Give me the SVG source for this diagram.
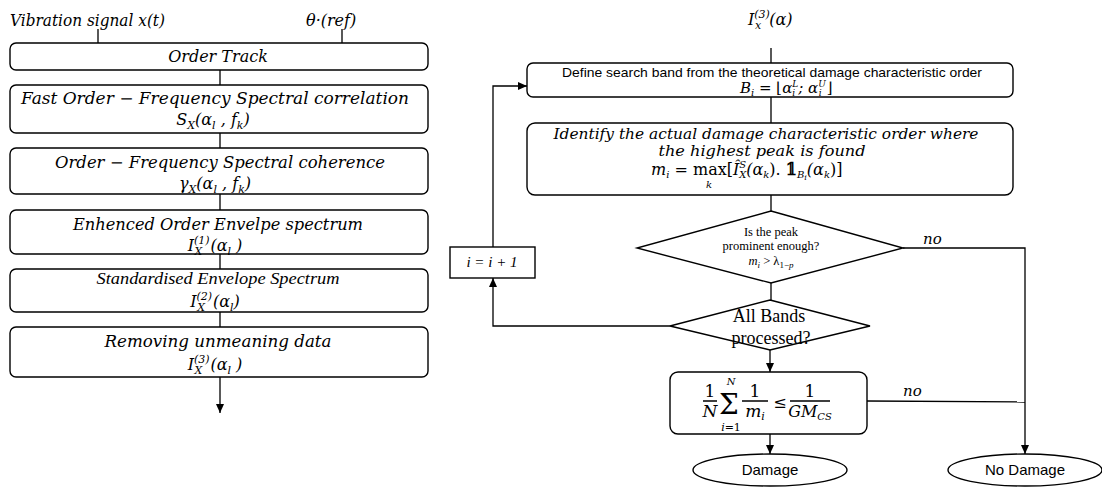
<svg xmlns="http://www.w3.org/2000/svg" width="1102" height="488" viewBox="0 0 1102 488" font-size="16">
<style>
.box{fill:#fff;stroke:#000;stroke-width:1.4}
.ln{fill:none;stroke:#000;stroke-width:1.3}
.m{font-family:"DejaVu Serif",serif;font-style:italic;fill:#000}
.u{font-family:"DejaVu Serif",serif;fill:#000}
.t{font-family:"Liberation Serif",serif;fill:#000}
.s{font-family:"Liberation Sans",sans-serif;fill:#000}
.c{text-anchor:middle}
</style>
<defs>
<marker id="ah" markerWidth="9" markerHeight="8" refX="9" refY="4" orient="auto" markerUnits="userSpaceOnUse"><path d="M0,0 L9,4 L0,8 z" fill="#000"/></marker>
</defs>
<rect width="1102" height="488" fill="#fff"/>

<g id="connectors">
<path class="ln" d="M98,29 V43 M342,29 V43"/>
<path class="ln" d="M220,70 V85 M220,133 V148 M220,194 V210 M220,254 V269 M220,312 V327"/>
<path class="ln" d="M220,377 V413" marker-end="url(#ah)"/>
<path class="ln" d="M771,48 V63 M771,97 V123 M771,195 V211 M771,283 V300"/>
<path class="ln" d="M770,350 V372" marker-end="url(#ah)"/>
<path class="ln" d="M770,434 V454" marker-end="url(#ah)"/>
<path class="ln" d="M903,248 H1025 V454" marker-end="url(#ah)"/>
<path class="ln" d="M867,401 L1025,402"/>
<path class="ln" d="M670,326 H493 V278" marker-end="url(#ah)"/>
<path class="ln" d="M493,247 V86 H527" marker-end="url(#ah)"/>
<text class="m" x="923" y="244" font-size="15">no</text>
<text class="m" x="903" y="396" font-size="15">no</text>
</g>

<g id="input-left">
<text class="m" x="10" y="26" textLength="155" lengthAdjust="spacingAndGlyphs">Vibration signal x(t)</text>
<text class="m" x="306" y="26">θ·(ref)</text>
</g>

<g id="order-track">
<rect class="box" x="10" y="43" width="418" height="27" rx="6"/>
<text class="m c" x="218" y="62">Order Track</text>
</g>

<g id="spectral-correlation">
<rect class="box" x="10" y="85" width="418" height="48" rx="6"/>
<text class="m c" x="215" y="104" textLength="388" lengthAdjust="spacingAndGlyphs">Fast Order − Frequency Spectral correlation</text>
<text class="m c" x="213" y="125">S<tspan dy="4" font-size="11">X</tspan><tspan dy="-4">(α</tspan><tspan dy="4" font-size="11">l</tspan><tspan dy="-4"> , f</tspan><tspan dy="4" font-size="11">k</tspan><tspan dy="-4">)</tspan></text>
</g>

<g id="spectral-coherence">
<rect class="box" x="10" y="148" width="418" height="46" rx="6"/>
<text class="m c" x="220" y="168" textLength="330" lengthAdjust="spacingAndGlyphs">Order − Frequency Spectral coherence</text>
<text class="m c" x="215" y="189">γ<tspan dy="4" font-size="11">X</tspan><tspan dy="-4">(α</tspan><tspan dy="4" font-size="11">l</tspan><tspan dy="-4"> , f</tspan><tspan dy="4" font-size="11">k</tspan><tspan dy="-4">)</tspan></text>
</g>

<g id="envelope-spectrum">
<rect class="box" x="10" y="210" width="418" height="44" rx="6"/>
<text class="m c" x="218" y="230" textLength="290" lengthAdjust="spacingAndGlyphs">Enhenced Order Envelpe spectrum</text>
<text class="m c" x="215" y="251">I<tspan dy="-7" font-size="11">(1)</tspan><tspan dx="-15" dy="11" font-size="11">X</tspan><tspan dx="8" dy="-4">(α</tspan><tspan dy="4" font-size="11">l</tspan><tspan dy="-4"> )</tspan></text>
</g>

<g id="standardised-spectrum">
<rect class="box" x="10" y="269" width="418" height="43" rx="6"/>
<text class="t c" x="218" y="284" font-size="17" font-style="italic" textLength="243" lengthAdjust="spacingAndGlyphs">Standardised Envelope Spectrum</text>
<text class="m c" x="215" y="307">I<tspan dy="-7" font-size="11">(2)</tspan><tspan dx="-15" dy="11" font-size="11">X</tspan><tspan dx="8" dy="-4">(α</tspan><tspan dy="4" font-size="11">l</tspan><tspan dy="-4">)</tspan></text>
</g>

<g id="removing-data">
<rect class="box" x="10" y="327" width="418" height="50" rx="6"/>
<text class="m c" x="218" y="347" textLength="227" lengthAdjust="spacingAndGlyphs">Removing unmeaning data</text>
<text class="m c" x="215" y="370">I<tspan dy="-7" font-size="11">(3)</tspan><tspan dx="-15" dy="11" font-size="11">X</tspan><tspan dx="8" dy="-4">(α</tspan><tspan dy="4" font-size="11">l</tspan><tspan dy="-4"> )</tspan></text>
</g>

<g id="input-right">
<text class="m" x="748" y="25">I<tspan dy="-7" font-size="11">(3)</tspan><tspan dx="-15" dy="11" font-size="11">x</tspan><tspan dx="8" dy="-4">(α)</tspan></text>
</g>

<g id="define-band">
<rect class="box" x="527" y="63" width="486" height="34" rx="6"/>
<text class="s c" x="772" y="77" font-size="13.5" textLength="420" lengthAdjust="spacingAndGlyphs">Define search band from the theoretical damage characteristic order</text>
<text class="m" x="740" y="93" font-size="15">B<tspan dy="3" font-size="10">i</tspan><tspan dy="-3" font-style="normal"> = ⌊</tspan>α<tspan dy="-6" font-size="9">L</tspan><tspan dx="-6" dy="9" font-size="9">i</tspan><tspan dx="3" dy="-3">; α</tspan><tspan dy="-6" font-size="9">U</tspan><tspan dx="-7" dy="9" font-size="9">i</tspan><tspan dx="5" dy="-3" font-style="normal">⌋</tspan></text>
</g>

<g id="identify-order">
<rect class="box" x="527" y="123" width="486" height="72" rx="8"/>
<text class="m c" x="766" y="139" font-size="15" textLength="425" lengthAdjust="spacingAndGlyphs">Identify the actual damage characteristic order where</text>
<text class="m c" x="762" y="156" font-size="15" textLength="207" lengthAdjust="spacingAndGlyphs">the highest peak is found</text>
<text class="m" x="651" y="175" font-size="16">m<tspan dy="3" font-size="10">i</tspan><tspan dy="-3" font-style="normal"> = max[</tspan>Î<tspan dy="-7" font-size="10">S</tspan><tspan dx="-7" dy="10" font-size="10">X</tspan><tspan dy="-3">(α</tspan><tspan dy="3" font-size="10">k</tspan><tspan dy="-3" font-style="normal">). </tspan><tspan font-style="normal" font-weight="bold">𝟙</tspan><tspan dy="3" font-size="10">B</tspan><tspan font-size="8" dy="2">i</tspan><tspan dy="-5">(α</tspan><tspan dy="3" font-size="10">k</tspan><tspan dy="-3" font-style="normal">)]</tspan></text>
<text class="m c" x="709" y="188" font-size="10">k</text>
</g>

<g id="peak-prominent">
<polygon class="box" points="771,211 903,248 771,283 637,248"/>
<text class="t c" x="771" y="236" font-size="12.5">Is the peak</text>
<text class="t c" x="771" y="250" font-size="12.5">prominent enough?</text>
<text class="t c" x="771" y="265" font-size="12.5"><tspan font-style="italic">m</tspan><tspan dy="3" font-size="9" font-style="italic">i</tspan><tspan dy="-3"> &gt; λ</tspan><tspan dy="3" font-size="9">1−</tspan><tspan font-size="9" font-style="italic">p</tspan></text>
</g>

<g id="all-bands">
<polygon class="box" points="770,300 870,326 770,350 670,326"/>
<text class="t c" x="769" y="322" font-size="18">All Bands</text>
<text class="t c" x="771" y="344" font-size="18">processed?</text>
</g>

<g id="increment">
<rect class="box" x="450" y="247" width="85" height="31"/>
<text class="t c" x="492" y="267" font-size="15" font-style="italic">i = i + 1</text>
</g>

<g id="criterion">
<rect class="box" x="670" y="372" width="197" height="62" rx="8"/>
<text class="u c" x="710" y="397" font-size="17">1</text>
<path class="ln" d="M703,401 H717 M742,401 H768 M790,401 H830"/>
<text class="m c" x="710" y="417" font-size="17">N</text>
<text class="u c" x="729" y="414" font-size="28">Σ</text>
<text class="m c" x="731" y="385" font-size="10">N</text>
<text class="m c" x="731" y="431" font-size="11">i<tspan font-style="normal">=1</tspan></text>
<text class="u c" x="755" y="397" font-size="17">1</text>
<text class="m c" x="755" y="417" font-size="17">m<tspan dy="3" font-size="11">i</tspan></text>
<text class="u c" x="780" y="408" font-size="16">≤</text>
<text class="u c" x="810" y="397" font-size="17">1</text>
<text class="m c" x="810" y="417" font-size="16">GM<tspan dy="3" font-size="10">CS</tspan></text>
</g>

<g id="damage">
<ellipse class="box" cx="770" cy="470" rx="77" ry="16"/>
<text class="s c" x="770" y="475" font-size="15">Damage</text>
</g>

<g id="no-damage">
<ellipse class="box" cx="1025" cy="470" rx="77" ry="16"/>
<text class="s c" x="1025" y="475" font-size="15">No Damage</text>
</g>
</svg>
